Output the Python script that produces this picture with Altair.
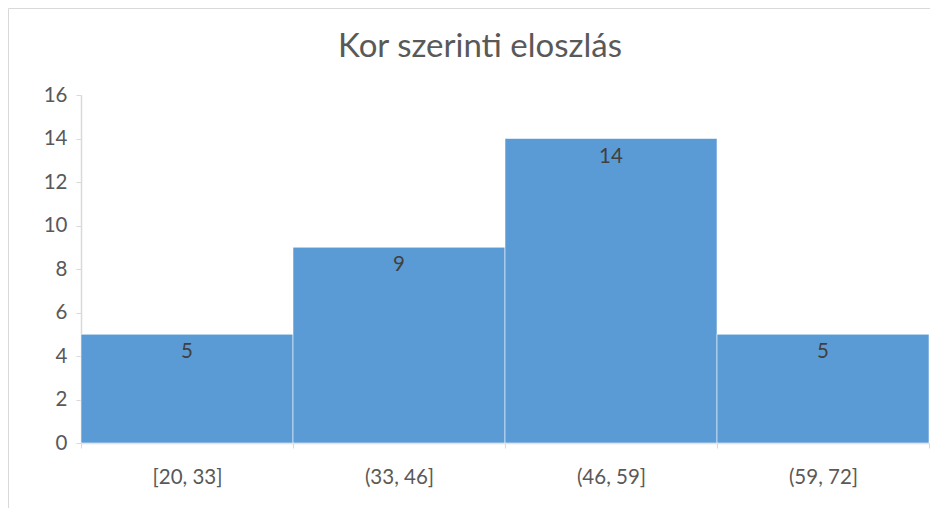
import altair as alt
import pandas as pd

categories = ["[20, 33]", "(33, 46]", "(46, 59]", "(59, 72]"]
counts = [5, 9, 14, 5]
title_text = "Kor szerinti eloszlás"

df = pd.DataFrame({"kat": categories, "db": counts})

FONT = "Lato"
TXT = "#595959"

x_enc = alt.X(
    "kat:N",
    sort=categories,
    scale=alt.Scale(paddingInner=0, paddingOuter=0),
    axis=alt.Axis(
        title=None,
        labelAngle=0,
        labelFontSize=20.5,
        labelColor=TXT,
        labelFont=FONT,
        labelPadding=19,
        tickBand="extent",
        tickSize=5,
        tickColor="#D9D9D9",
        domainColor="#D9D9D9",
        domainWidth=1.5,
    ),
)

base = alt.Chart(df)

bars = base.mark_bar(
    color="#5B9BD5", stroke="white", strokeOpacity=0.55, strokeWidth=1
).encode(
    x=x_enc,
    y=alt.Y(
        "db:Q",
        scale=alt.Scale(domain=[0, 16]),
        axis=alt.Axis(
            title=None,
            values=[0, 2, 4, 6, 8, 10, 12, 14, 16],
            grid=False,
            labelFontSize=20.5,
            labelColor=TXT,
            labelFont=FONT,
            labelPadding=9,
            tickSize=5,
            tickColor="#D9D9D9",
            domainColor="#D9D9D9",
            domainWidth=1.5,
        ),
    ),
)

labels = base.mark_text(
    baseline="middle", dy=18, fontSize=20.5, font=FONT, color="#404040"
).encode(x=alt.X("kat:N", sort=categories), y="db:Q", text="db:Q")

one = pd.DataFrame({"t": [title_text]})

title = alt.Chart(one).mark_text(
    font=FONT, fontSize=33, color=TXT, align="center", baseline="middle"
).encode(x=alt.value(399), y=alt.value(-48), text="t:N")

frame_left = alt.Chart(one).mark_rule(color="#D9D9D9", strokeWidth=1).encode(
    x=alt.value(-72.5), y=alt.value(-86.5), y2=alt.value(600)
)
frame_top = alt.Chart(one).mark_rule(color="#D9D9D9", strokeWidth=1).encode(
    x=alt.value(-72.5), x2=alt.value(1000), y=alt.value(-86.5)
)

chart = (
    alt.layer(frame_left, frame_top, bars, labels, title)
    .properties(
        width=848,
        height=348,
        autosize=alt.AutoSizeParams(type="none"),
        padding={"left": 73, "top": 87, "right": 1, "bottom": 65},
    )
    .configure_view(stroke=None)
)

chart.save("out.html", embed_options={"renderer": "svg", "actions": False})
